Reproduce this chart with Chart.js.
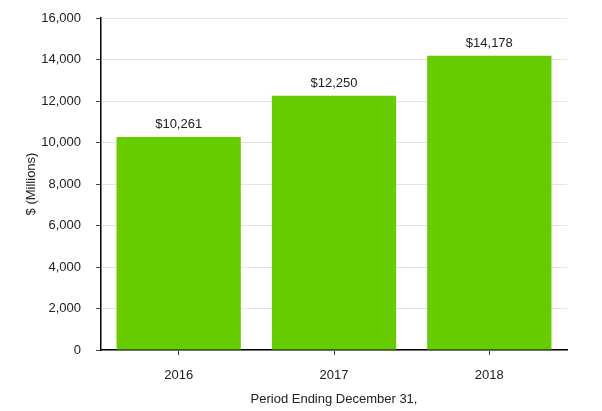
<!DOCTYPE html>
<html>
<head>
<meta charset="utf-8">
<script src="https://cdn.jsdelivr.net/npm/chart.js@4"></script>
<style>
  html, body { margin: 0; padding: 0; background: #fff; }
  #wrap { width: 602px; height: 411px; }
</style>
</head>
<body>
<div id="wrap"><canvas id="revenue_chart" width="602" height="411"></canvas></div>
<script>
// data
var years = ["2016", "2017", "2018"];
var revenue = [10261, 12250, 14178];
var yTicks = [0, 2000, 4000, 6000, 8000, 10000, 12000, 14000, 16000];

var barColor = "#66cc00";
var font = "'Liberation Sans', Arial, sans-serif";

// labels above bars
var barLabels = {
    id: "barLabels",
    afterDatasetsDraw: function (chart) {
        var ctx = chart.ctx;
        var meta = chart.getDatasetMeta(0);
        ctx.save();
        ctx.font = "13px " + font;
        ctx.fillStyle = "#222";
        ctx.textAlign = "center";
        ctx.textBaseline = "bottom";
        meta.data.forEach(function (bar, i) {
            ctx.fillText("$" + revenue[i].toLocaleString("en-US"), bar.x, bar.y - 6);
        });
        ctx.restore();
    }
};

var el = document.getElementById("revenue_chart");
var revenueChart = new Chart(el, {
    type: "bar",
    data: {
        labels: years,
        datasets: [
            {
                label: "Revenue",
                backgroundColor: barColor,
                borderWidth: 0,
                data: revenue,
                barPercentage: 0.8,
                categoryPercentage: 1.0,
            },
        ],
    },
    options: {
        responsive: false,
        animation: false,
        layout: { padding: { left: 20, right: 35, top: 18, bottom: 0 } },
        plugins: {
            legend: { display: false },
            tooltip: { enabled: false },
        },
        scales: {
            x: {
                grid: {
                    offset: false,
                    drawOnChartArea: false,
                    color: "#333",
                    tickColor: "#333",
                    tickLength: 5,
                },
                border: { color: "#000", width: 1.5 },
                ticks: { color: "#222", font: { family: font, size: 13 }, padding: 13 },
                title: {
                    display: true,
                    text: "Period Ending December 31,",
                    color: "#222",
                    font: { family: font, size: 13 },
                    padding: { top: 4 },
                },
                afterFit: function (scale) {
                    scale.height = 61;
                    scale.paddingLeft = 0;
                    scale.paddingRight = 0;
                },
            },
            y: {
                min: 0,
                max: 16000,
                afterBuildTicks: function (scale) {
                    scale.ticks = yTicks.map(function (v) { return { value: v }; });
                },
                grid: {
                    color: "#e3e3e3",
                    tickColor: "#444",
                    tickLength: 5,
                },
                border: { color: "#000", width: 1.5 },
                ticks: {
                    color: "#222",
                    font: { family: font, size: 13 },
                    padding: 15,
                    callback: function (v) { return v.toLocaleString("en-US"); },
                },
                title: {
                    display: true,
                    text: "$ (Millions)",
                    color: "#222",
                    font: { family: font, size: 13 },
                    padding: { bottom: 0 },
                },
                afterFit: function (scale) {
                    scale.width = 81;
                    scale.paddingTop = 0;
                    scale.paddingBottom = 0;
                },
            },
        },
    },
    plugins: [barLabels],
});
</script>
</body>
</html>
